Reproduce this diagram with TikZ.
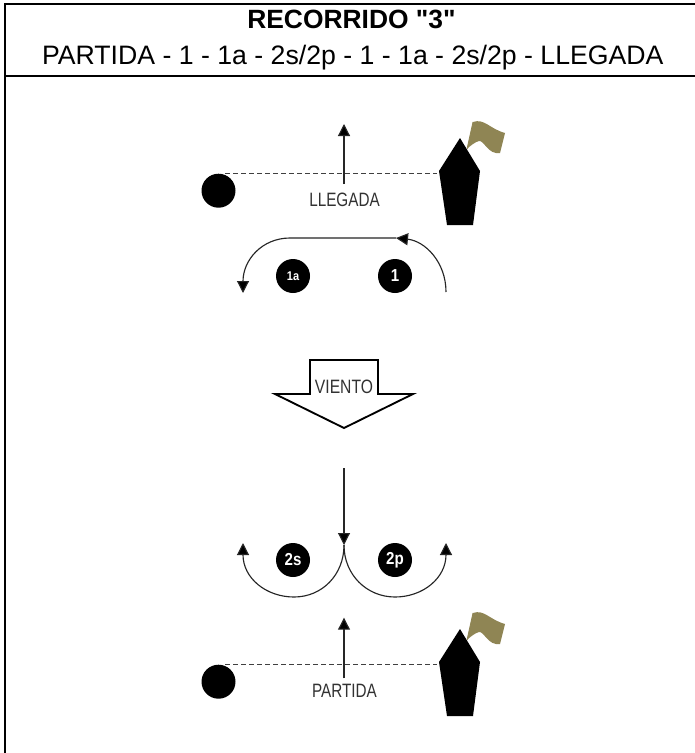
\documentclass[tikz,border=0pt]{standalone}
\usepackage{fontspec}
\setmainfont{Liberation Sans}
\newfontfamily\headfont{Liberation Sans}
\usetikzlibrary{arrows.meta}
\definecolor{flagc}{RGB}{143,133,84}
\definecolor{labelc}{RGB}{50,50,50}
\newcommand{\narrowtxt}[1]{\scalebox{0.87}[1]{#1}}
\tikzset{
  x=0.75pt,y=-0.75pt,
  frameline/.style={line width=1.6pt,black},
  course/.style={line width=0.85pt,draw=black!85,-{Triangle[length=9pt,width=9pt,fill=black]}},
  dashline/.style={line width=0.8pt,draw=black!75,dash pattern=on 4pt off 2pt},
  buoy/.style={circle,fill=black,draw=none,inner sep=0pt,minimum size=25.5pt,text=white,font=\fontsize{13}{13}\selectfont\bfseries},
  linemark/.style={circle,fill=black,draw=none,inner sep=0pt,minimum size=25.5pt},
  lab/.style={text=labelc,inner sep=0pt,anchor=base,font=\fontsize{14.5}{15}\selectfont},
  headtext/.style={inner sep=0pt,anchor=base},
  boatshape/.style={fill=black,draw=none},
  flagshape/.style={fill=flagc,draw=none},
  poleline/.style={line width=0.6pt,draw=flagc}
}
\begin{document}
\begin{tikzpicture}
\useasboundingbox (0,0) rectangle (695,753);
\fill[white] (0,0) rectangle (695,753);
% frame
\coordinate (tl) at (5,4); \coordinate (tr) at (695,4);
\coordinate (ml) at (5,76); \coordinate (mr) at (695,76);
\coordinate (bl) at (5,753);
\draw[frameline] (tr) -- (tl) -- (bl);
\draw[frameline] (ml) -- (mr);
\node[headtext,font=\headfont\fontsize{19.8}{22}\selectfont\bfseries] (title) at (351.5,28.3) {RECORRIDO "3"};
\node[headtext,font=\fontsize{20}{22}\selectfont] (sub) at (352.8,64) {PARTIDA - 1 - 1a - 2s/2p - 1 - 1a - 2s/2p - LLEGADA};
% finish line
\node[linemark] (m1) at (218.5,190.7) {};
\coordinate (d1a) at (225,173.7); \coordinate (d1b) at (437,173.7);
\draw[dashline] (d1a) -- (d1b);
\coordinate (u1a) at (344,184); \coordinate (u1b) at (344,124);
\draw[course] (u1a) -- (u1b);
\node[lab,xscale=0.79] (ll) at (344.5,206) {LLEGADA};
\fill[boatshape] (460,138) -- (480,171) -- (473,225) -- (447,225) -- (439,171) -- cycle;
\draw[poleline] (467,149) -- (473,122);
\fill[flagshape] (467,149) -- (473,122) .. controls (484,118) and (490,129) .. (505,133) -- (500,153) .. controls (488,155) and (484,140) .. (479,141) .. controls (475,142) and (470,146) .. cycle;
% buoys 1 and 1a
\node[buoy,font=\fontsize{9.5}{10}\selectfont\bfseries] (b1a) at (293,276) {\narrowtxt{1a}};
\node[buoy] (b1) at (395,276) {\narrowtxt{1}};
\coordinate (c1s) at (446,292); \coordinate (c1m) at (396,238);
\coordinate (c1r) at (290,238); \coordinate (c1e) at (243,293);
\draw[course] (c1s) .. controls (446,262) and (425,241) .. (c1m);
\draw[course] (c1m) -- (c1r) .. controls (262,238) and (243,260) .. (c1e);
% wind
\draw[line width=1.4pt,line join=miter] (310,360) -- (378,360) -- (378,394) -- (413,394) -- (344,428) -- (275,394) -- (310,394) -- cycle;
\node[lab,xscale=0.81] (v) at (344,393) {VIENTO};
% downwind leg
\coordinate (w1) at (344,468); \coordinate (w2) at (344,545);
\draw[course] (w1) -- (w2);
\coordinate (a2l) at (243,543); \coordinate (a2r) at (446,543);
\draw[course] (w2) .. controls (344,575) and (322,597) .. (294,597) .. controls (266,597) and (243,578) .. (a2l);
\draw[course] (w2) .. controls (344,575) and (367,597) .. (395,597) .. controls (423,597) and (446,578) .. (a2r);
\node[buoy] (b2s) at (293,560) {\narrowtxt{2s}};
\node[buoy] (b2p) at (395,560) {\narrowtxt{2p}};
% start line
\node[linemark] (m2) at (218.5,681.7) {};
\coordinate (d2a) at (225,664.7); \coordinate (d2b) at (437,664.7);
\draw[dashline] (d2a) -- (d2b);
\coordinate (u2a) at (344,678.3); \coordinate (u2b) at (344,617.7);
\draw[course] (u2a) -- (u2b);
\node[lab,xscale=0.79] (pa) at (344.5,697) {PARTIDA};
\begin{scope}[yshift=-368.25pt]
\fill[boatshape] (460,138) -- (480,171) -- (473,225) -- (447,225) -- (439,171) -- cycle;
\draw[poleline] (467,149) -- (473,122);
\fill[flagshape] (467,149) -- (473,122) .. controls (484,118) and (490,129) .. (505,133) -- (500,153) .. controls (488,155) and (484,140) .. (479,141) .. controls (475,142) and (470,146) .. cycle;
\end{scope}
\end{tikzpicture}
\end{document}
